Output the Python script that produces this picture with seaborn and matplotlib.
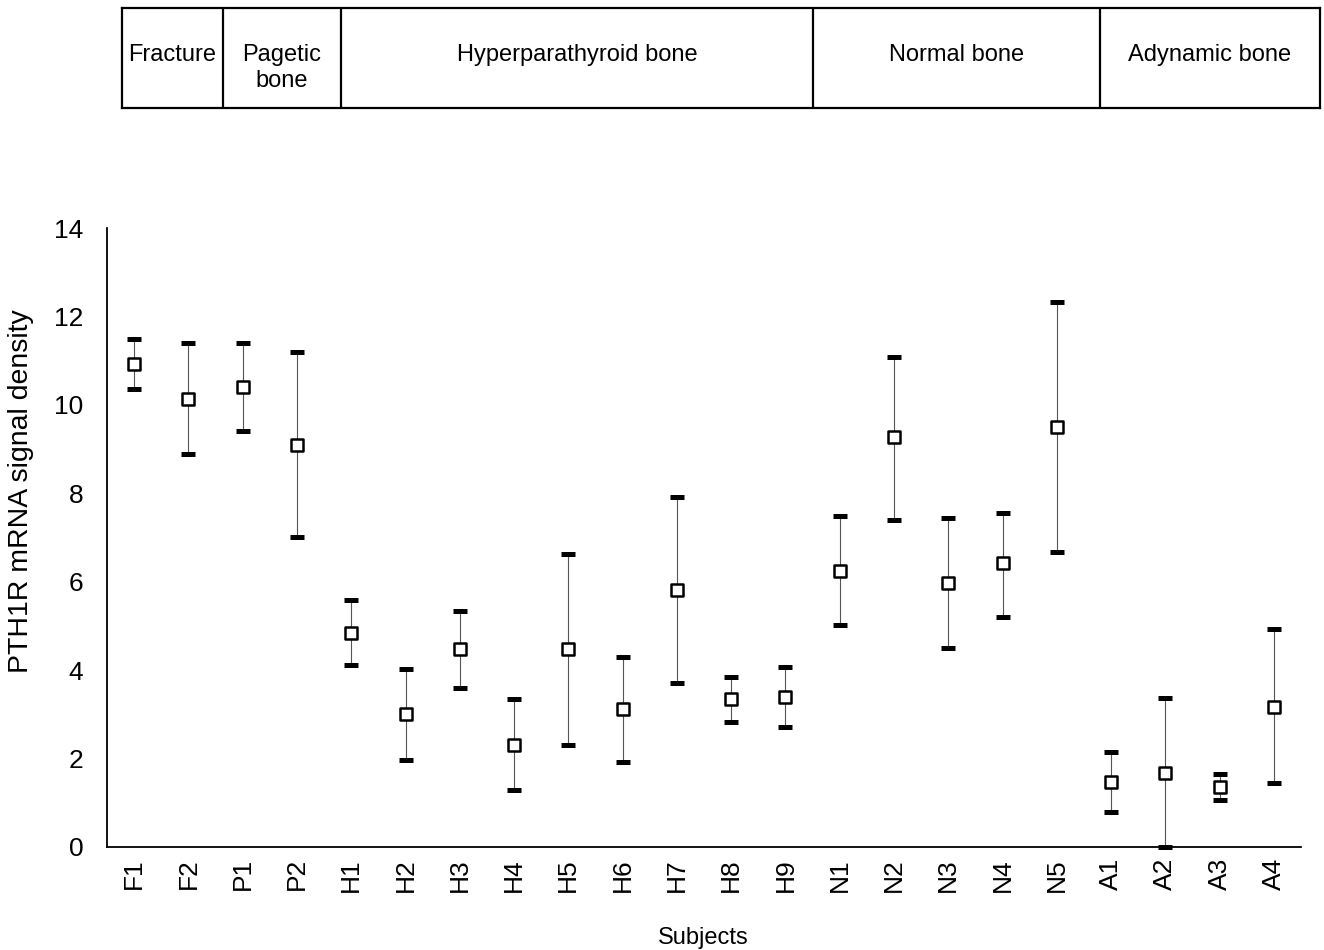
import numpy as np
import pandas as pd
import matplotlib
matplotlib.use("Agg")
import matplotlib.pyplot as plt
import seaborn as sns

subjects = ["F1", "F2", "P1", "P2", "H1", "H2", "H3", "H4", "H5", "H6", "H7",
            "H8", "H9", "N1", "N2", "N3", "N4", "N5", "A1", "A2", "A3", "A4"]
mean_vals = [10.92, 10.13, 10.40, 9.09, 4.84, 3.01, 4.48, 2.31, 4.48, 3.12, 5.81,
             3.35, 3.39, 6.24, 9.27, 5.97, 6.42, 9.50, 1.47, 1.67, 1.36, 3.17]
upper_vals = [11.49, 11.40, 11.40, 11.20, 5.59, 4.03, 5.34, 3.35, 6.63, 4.30, 7.92,
              3.85, 4.07, 7.49, 11.08, 7.44, 7.55, 12.33, 2.15, 3.37, 1.65, 4.93]
lower_vals = [10.36, 8.89, 9.41, 7.01, 4.12, 1.97, 3.60, 1.29, 2.31, 1.92, 3.71,
              2.83, 2.71, 5.02, 7.40, 4.50, 5.20, 6.67, 0.79, 0.00, 1.06, 1.45]

groups = ["Fracture", "Pagetic\nbone", "Hyperparathyroid bone", "Normal bone", "Adynamic bone"]
y_ticks = [0, 2, 4, 6, 8, 10, 12, 14]

df = pd.DataFrame({"subject": subjects, "mean": mean_vals,
                   "upper": upper_vals, "lower": lower_vals})

sns.set_theme(style="white")
plt.rcParams["font.family"] = ["Liberation Sans", "DejaVu Sans"]
plt.rcParams["text.color"] = "black"
plt.rcParams["axes.labelcolor"] = "black"
plt.rcParams["xtick.color"] = "black"
plt.rcParams["ytick.color"] = "black"

W, H = 1324, 950
fig = plt.figure(figsize=(W / 100, H / 100), dpi=100)

# main axes
ax = fig.add_axes([107 / W, 1 - 847 / H, (1301 - 107) / W, (847 - 228) / H])

xpos = np.arange(len(subjects))
yerr = np.vstack([df["mean"] - df["lower"], df["upper"] - df["mean"]])
eb = ax.errorbar(xpos, df["mean"], yerr=yerr, fmt="none", ecolor="black",
                 elinewidth=0.8, capsize=5, capthick=3.6, zorder=2, clip_on=False)
for lc in eb[2]:
    lc.set_color("#555555")

sns.scatterplot(data=df, x="subject", y="mean", ax=ax, marker="s", s=75,
                facecolor="white", edgecolor="black", linewidth=1.8, zorder=3,
                clip_on=False)

ax.set_xlim(-0.5, len(subjects) - 0.5)
ax.set_ylim(0, 14)
ax.set_yticks(y_ticks)
ax.set_yticklabels([str(v) for v in y_ticks], fontsize=19)
ax.set_xticks(xpos)
ax.set_xticklabels(subjects, rotation=90, fontsize=19)
ax.set_xticks(np.arange(len(subjects) + 1) - 0.5, minor=True)
ax.tick_params(axis="x", which="major", length=0, pad=8)
ax.tick_params(axis="x", which="minor", length=6, direction="inout", width=0.8)
ax.tick_params(axis="y", which="major", length=3, width=0.8, direction="out", pad=14)
for s in ["top", "right"]:
    ax.spines[s].set_visible(False)
for s in ["left", "bottom"]:
    ax.spines[s].set_color("black")
    ax.spines[s].set_linewidth(1.3)
ax.set_xlabel("Subjects", fontsize=17)
ax.xaxis.set_label_coords(0.499, -0.13)
ax.set_ylabel("PTH1R mRNA signal density", fontsize=20.5)
ax.yaxis.set_label_coords(-0.061, 0.575)

# header boxes
hx0, hx1, hy0, hy1 = 122, 1320, 8, 108
hax = fig.add_axes([hx0 / W, 1 - hy1 / H, (hx1 - hx0) / W, (hy1 - hy0) / H])
hax.set_xlim(hx0, hx1)
hax.set_ylim(hy1, hy0)
hax.set_xticks([])
hax.set_yticks([])
for s in hax.spines.values():
    s.set_color("black")
    s.set_linewidth(1.6)
edges = [122, 223, 341, 813, 1100, 1320]
for e in edges[1:-1]:
    hax.axvline(e, color="black", linewidth=1.6)
for i, g in enumerate(groups):
    cx = (edges[i] + edges[i + 1]) / 2
    hax.text(cx, 44, g, ha="center", va="top", fontsize=17, linespacing=1.25)

fig.savefig("out.png", dpi=100, facecolor="white")
